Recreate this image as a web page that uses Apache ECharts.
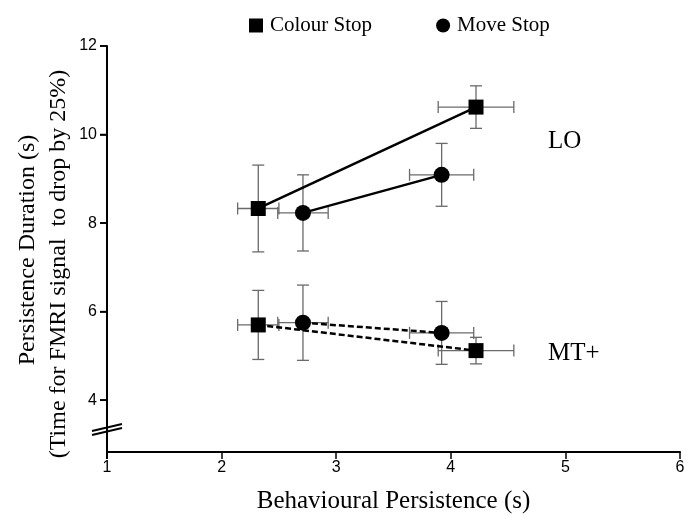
<!DOCTYPE html>
<html>
<head>
<meta charset="utf-8">
<script src="https://cdn.jsdelivr.net/npm/echarts@6/dist/echarts.min.js"></script>
<style>html,body{margin:0;padding:0;background:#fff}#c{width:687px;height:516px}</style>
</head>
<body>
<div id="c"></div>
<script>
// Behavioural persistence (x) per condition
var behavColour = [2.32, 4.22];
var behavMove = [2.71, 3.92];
var behavColourErr = [0.18, 0.33];
var behavMoveErr = [0.22, 0.28];
// Persistence duration (y)
var loColour = [8.33, 10.62];
var loMove = [8.23, 9.09];
var mtColour = [5.70, 5.12];
var mtMove = [5.75, 5.52];
var loColourErr = [0.98, 0.48];
var loMoveErr = [0.86, 0.71];
var mtColourErr = [0.78, 0.30];
var mtMoveErr = [0.85, 0.71];
var yTicks = [4, 6, 8, 10, 12];
var xTicks = [1, 2, 3, 4, 5, 6];

var serif = '"Liberation Serif", "Times New Roman", serif';
var sans = '"Liberation Sans", Arial, sans-serif';

function pts(xs, ys) { return xs.map(function (x, i) { return [x, ys[i]]; }); }
function errRows(xs, ys, xe, ye) {
  return xs.map(function (x, i) { return [x, ys[i], xe[i], ye[i]]; });
}
var errData = []
  .concat(errRows(behavColour, loColour, behavColourErr, loColourErr))
  .concat(errRows(behavMove, loMove, behavMoveErr, loMoveErr))
  .concat(errRows(behavColour, mtColour, behavColourErr, mtColourErr))
  .concat(errRows(behavMove, mtMove, behavMoveErr, mtMoveErr));

var chart = echarts.init(document.getElementById('c'), null, {renderer: 'canvas'});
var errStyle = {stroke: '#6a6a6a', lineWidth: 1.3};
var cap = 6;
function seg(x1, y1, x2, y2) {
  return {type: 'line', shape: {x1: x1, y1: y1, x2: x2, y2: y2}, style: errStyle};
}
var option = {
  backgroundColor: '#fff',
  animation: false,
  grid: {left: 107, right: 7, top: 46, bottom: 64, containLabel: false, outerBoundsMode: 'none'},
  legend: {
    left: 244, top: 10, itemGap: 64, itemWidth: 14, itemHeight: 14,
    textStyle: {fontFamily: serif, fontSize: 21, color: '#000', padding: [0, 0, 0, 2]},
    data: [{name: 'Colour Stop', icon: 'rect'}, {name: 'Move Stop', icon: 'circle'}]
  },
  xAxis: {
    type: 'value', min: 1, max: 6, interval: 1,
    name: 'Behavioural Persistence (s)', nameLocation: 'middle', nameGap: 37,
    nameTextStyle: {fontFamily: serif, fontSize: 25, color: '#000'},
    axisLine: {lineStyle: {color: '#000', width: 2}},
    axisTick: {length: 7, lineStyle: {color: '#000', width: 1.5}},
    axisLabel: {fontFamily: sans, fontSize: 16, color: '#000', margin: 8},
    splitLine: {show: false}
  },
  yAxis: {
    type: 'value', min: 2.83, max: 12,
    axisLine: {show: true, lineStyle: {color: '#000', width: 2}},
    axisTick: {show: true, length: 7, customValues: yTicks, lineStyle: {color: '#000', width: 1.6}},
    axisLabel: {fontFamily: sans, fontSize: 16, color: '#000', margin: 10, customValues: yTicks},
    splitLine: {show: false}
  },
  series: [
    {
      type: 'custom', name: 'err', z: 1, silent: true,
      data: errData,
      renderItem: function (params, api) {
        var x = api.value(0), y = api.value(1), xe = api.value(2), ye = api.value(3);
        var l = api.coord([x - xe, y]), r = api.coord([x + xe, y]);
        var t = api.coord([x, y + ye]), b = api.coord([x, y - ye]);
        return {type: 'group', children: [
          seg(t[0], t[1], b[0], b[1]),
          seg(t[0] - cap, t[1], t[0] + cap, t[1]),
          seg(b[0] - cap, b[1], b[0] + cap, b[1]),
          seg(l[0], l[1], r[0], r[1]),
          seg(l[0], l[1] - cap, l[0], l[1] + cap),
          seg(r[0], r[1] - cap, r[0], r[1] + cap)
        ]};
      }
    },
    {type: 'line', name: 'Colour Stop', z: 3, data: pts(behavColour, loColour), symbol: 'rect', symbolSize: 15,
      itemStyle: {color: '#000'}, lineStyle: {color: '#000', width: 2.5}},
    {type: 'line', name: 'Move Stop', z: 3, data: pts(behavMove, loMove), symbol: 'circle', symbolSize: 16,
      itemStyle: {color: '#000'}, lineStyle: {color: '#000', width: 2.5}},
    {type: 'line', name: 'Colour Stop', z: 3, data: pts(behavColour, mtColour), symbol: 'rect', symbolSize: 15,
      itemStyle: {color: '#000'}, lineStyle: {color: '#000', width: 2.5, type: [6, 3]}},
    {type: 'line', name: 'Move Stop', z: 3, data: pts(behavMove, mtMove), symbol: 'circle', symbolSize: 16,
      itemStyle: {color: '#000'}, lineStyle: {color: '#000', width: 2.5, type: [6, 3]}}
  ]
};
chart.setOption(option);

var o = chart.convertToPixel({gridIndex: 0}, [1, 2.83]);
var ax = o[0], ay = o[1];
var tickGraphics = yTicks.map(function (v) {
  var p = chart.convertToPixel({gridIndex: 0}, [1, v]);
  return {type: 'line', shape: {x1: p[0] - 7, y1: p[1], x2: p[0], y2: p[1]}, style: {stroke: '#000', lineWidth: 1.6}};
});
chart.setOption({
  graphic: tickGraphics.concat([
    {type: 'line', shape: {x1: ax, y1: ay - 1, x2: ax, y2: ay + 7}, style: {stroke: '#000', lineWidth: 2}},
    {type: 'line', shape: {x1: ax - 15, y1: ay - 21, x2: ax + 15, y2: ay - 28}, style: {stroke: '#000', lineWidth: 1.8}},
    {type: 'line', shape: {x1: ax - 15, y1: ay - 17, x2: ax + 15, y2: ay - 24}, style: {stroke: '#000', lineWidth: 1.8}},
    {type: 'text', x: 548, y: 141, style: {text: 'LO', font: '25px ' + serif, fill: '#000', verticalAlign: 'middle'}},
    {type: 'text', x: 548, y: 353, style: {text: 'MT+', font: '25px ' + serif, fill: '#000', verticalAlign: 'middle'}},
    {type: 'text', x: 28, y: 250, rotation: Math.PI / 2,
      style: {text: 'Persistence Duration (s)', font: '24px ' + serif, fill: '#000', align: 'center', verticalAlign: 'middle'}},
    {type: 'text', x: 59, y: 264, rotation: Math.PI / 2,
      style: {text: '(Time for FMRI signal  to drop by 25%)', font: '24px ' + serif, fill: '#000', align: 'center', verticalAlign: 'middle'}}
  ])
});
</script>
</body>
</html>
